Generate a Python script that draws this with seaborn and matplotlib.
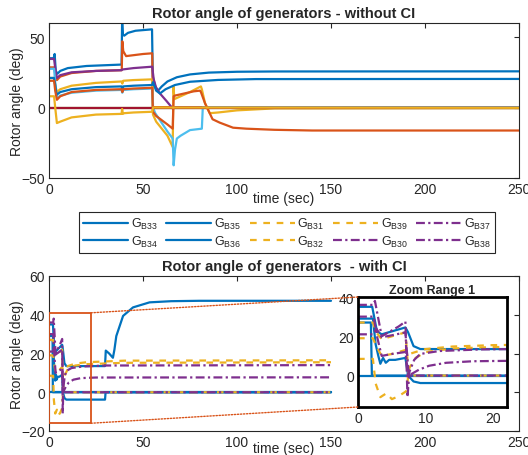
import matplotlib
matplotlib.use("Agg")
import matplotlib.pyplot as plt
import seaborn as sns
from matplotlib.patches import Rectangle, ConnectionPatch

# MATLAB default colour order
BLUE = "#0072BD"
ORANGE = "#D95319"
YELLOW = "#EDB120"
PURPLE = "#7E2F8E"
GREEN = "#77AC30"
LBLUE = "#4DBEEE"
DRED = "#A2142F"

# ---- top panel: without CI (time in s, angle in deg) ----
top_t1 = [0, 2.5, 3.0, 3.6, 4.5, 6, 10, 20, 38.6, 38.9, 39.3, 40, 42, 46, 54.8, 55.2, 56.5, 58, 60, 63, 68, 75, 85, 100, 120, 250]
top_v1 = [35, 35, 38, 26, 24, 26, 28, 29.5, 30.5, 62, 52, 51, 53, 54.5, 55.5, 22, 15, 12, 15, 18.5, 21.5, 23.5, 24.8, 25.4, 25.6, 25.7]

top_t2 = [0, 2.7, 3.3, 4.2, 6, 12, 25, 38.7, 39, 39.5, 41, 44, 50, 54.9, 55.3, 250]
top_v2 = [28.5, 28.5, 24, 19.5, 22, 24.5, 26, 26.5, 47, 40, 36.5, 37, 38, 38.5, 0.3, 0.3]

top_t3 = [0, 2.7, 3.3, 4.2, 6, 12, 25, 38.6, 39, 39.5, 45, 54.9, 55.3, 57, 60, 63, 65.8, 66.2, 66.7, 70, 75, 80.8, 81.3, 83, 85.5, 90, 100, 120, 250]
top_v3 = [21, 21, 16, 11, 13, 15.5, 17.5, 18.5, 17, 19, 19.5, 20, -5, -10, -15, -20, -28, 15, 6, 8, 11, 15, 13, 3, -4, -3.5, -2, -0.6, -0.4]

top_t4 = [0, 2.7, 3.3, 4.2, 6, 12, 25, 38.6, 39, 45, 54.9, 55.7, 57, 59, 62.4, 66, 66.5, 250]
top_v4 = [34.5, 34.5, 28, 21, 23, 25, 26, 26.5, 27, 28, 29, 20, 14, 10, 4.8, -1, 0, 0]

top_t5 = [0, 250]
top_v5 = [0, 0]

top_t6 = [0, 2.7, 3.3, 4.2, 6, 12, 25, 38.6, 39, 39.5, 45, 54.9, 55.3, 56.5, 60, 63, 65.8, 66.3, 67, 68, 70, 75, 81.3, 81.8, 250]
top_v6 = [27.5, 27.5, 18, 6.5, 8.5, 10.5, 12, 12.5, 10.5, 12.5, 13, 13.5, 0, -4, -11, -17, -22, -41, -30, -22, -20, -16, -15, 0, 0]

top_t7 = [0, 250]
top_v7 = [0, 0]

top_t8 = [0, 2.6, 3.2, 4, 6, 12, 25, 38.6, 39, 39.5, 45, 54.8, 55.3, 57, 59, 62, 67, 75, 90, 110, 250]
top_v8 = [21, 21, 17, 9, 11, 13, 14.5, 15, 12, 15, 15.5, 16, 18, 12, 10, 13, 16, 18.3, 19.6, 20.2, 20.3]

top_t9 = [0, 2.7, 3.3, 4.2, 6, 12, 25, 38.6, 39, 39.5, 45, 54.9, 55.3, 57, 60, 63, 65.8, 66.3, 67, 72, 77, 80.3, 80.8, 83, 87, 90.8, 97.9, 105, 120, 140, 250]
top_v9 = [19, 19, 12, 5.5, 8, 11, 12.5, 13, 11, 13, 13.5, 14, -3, -6, -9, -12, -15, 8, 8.5, 10, 11.5, 12, 11, 3, -8.3, -10.7, -14.3, -15, -15.8, -16.3, -16.3]

top_t10 = [0, 2.7, 3.3, 4.2, 6, 12, 25, 38.6, 38.9, 39.3, 40, 45, 54.9, 55.3, 250]
top_v10 = [8, 8, 0, -11, -10, -7, -5, -4.5, -1, -4.5, -4, -3.5, -3, 0, -0.2]

# ---- bottom panel: with CI ----
t_b33 = [0, 2.1, 2.8, 3.5, 5, 7, 7.4, 8.2, 9.2, 29.8, 30.2, 32, 34, 34.8, 35.8, 39.4, 44.7, 53.5, 65, 80, 150]
a_b33 = [35, 35, 22.5, 21, 22.5, 24.5, 22, 15, 13.5, 13.5, 21.5, 20, 17.8, 22, 29, 39.4, 43.8, 46.4, 47, 47.2, 47.2]

t_b34 = [0, 2.2, 2.6, 3.0, 3.3, 3.7, 4.1, 4.6, 5.5, 7.0, 7.4, 8.2, 9.2, 29.8, 30.1, 150]
a_b34 = [29, 29, 16, 10, 6, 9, 6.5, 8, 8, 9, 0, -3, -3.8, -3.8, 0, 0]

t_b35 = [0, 1.9, 2.05, 150]
a_b35 = [27, 27, 0, 0]

t_b36 = [0, 150]
a_b36 = [0, 0]

t_b31 = [0, 2.2, 2.7, 3.5, 5, 7, 7.6, 8.5, 10, 14, 20, 40, 150]
a_b31 = [19, 19, 15, 10, 11, 13, 11, 12, 13.5, 14.8, 15.5, 16.3, 16.5]

t_b32 = [0, 2.2, 2.6, 3.3, 4.2, 5, 6, 7.1, 7.6, 8.5, 10, 14, 20, 40, 150]
a_b32 = [8.5, 8.5, -4, -11, -9, -12, -10.5, -8, 4, 9, 12, 13.8, 14.5, 15.2, 15.5]

t_b39 = [0, 2.2, 2.7, 3.5, 5, 7, 7.5, 150]
a_b39 = [27, 27, 22, 18.5, 20, 22, 0, 0]

t_b37 = [0, 2.2, 2.5, 3.5, 4.5, 6, 7.0, 7.3, 7.6, 8.3, 9.2, 12, 18, 30, 150]
a_b37 = [36, 36, 38, 20, 22, 25, 27.5, -11, 2, 8, 11, 12.5, 13.3, 13.8, 14]

t_b30 = [0, 2.3, 2.8, 3.5, 5, 7, 7.4, 8, 9, 10.5, 13, 17, 25, 150]
a_b30 = [30, 30, 20, 10, 11, 12, 0, 1, 3, 5, 6.5, 7.3, 7.6, 7.7]

t_b38 = [0, 2.2, 2.7, 3.5, 5, 7, 7.5, 150]
a_b38 = [21, 21, 24, 19.5, 20.5, 22, 0, 0]

DASH = (0, (3, 3))
DASHDOT = (0, (4, 1.5, 1, 1.5))

sns.set_theme(style="white")
plt.rcParams['font.family'] = ['Liberation Sans', 'DejaVu Sans']
plt.rcParams['mathtext.default'] = 'regular'

fig = plt.figure(figsize=(5.28, 4.56), dpi=100)
ax1 = fig.add_axes([49 / 528, 1 - 179 / 456, 470 / 528, 155 / 456])
ax2 = fig.add_axes([49 / 528, 1 - 432 / 456, 470 / 528, 155 / 456])
ax3 = fig.add_axes([358 / 528, 1 - 408 / 456, 149 / 528, 110 / 456])


def style_axes(ax, xt, yt, lw=0.8):
    ax.set_xticks(xt)
    ax.set_yticks(yt)
    ax.tick_params(direction='in', length=3.5, width=0.8, top=True, right=True,
                   labelsize=10, colors='#262626', pad=3)
    for s in ax.spines.values():
        s.set_color('#262626' if lw < 1.5 else 'black')
        s.set_linewidth(lw)


# top panel
top = [(top_t1, top_v1, BLUE), (top_t2, top_v2, ORANGE), (top_t3, top_v3, YELLOW),
       (top_t4, top_v4, PURPLE), (top_t5, top_v5, GREEN), (top_t6, top_v6, LBLUE),
       (top_t7, top_v7, DRED), (top_t8, top_v8, BLUE), (top_t9, top_v9, ORANGE),
       (top_t10, top_v10, YELLOW)]
for t, v, c in top:
    sns.lineplot(x=t, y=v, ax=ax1, color=c, lw=1.6, estimator=None, sort=False, legend=False)
ax1.set_xlim(0, 250)
ax1.set_ylim(-50, 60)
style_axes(ax1, range(0, 251, 50), [-50, 0, 50])
ax1.set_title("Rotor angle of generators - without CI", fontsize=10.5, fontweight='bold', pad=4)
ax1.set_ylabel("Rotor angle (deg)", fontsize=10, color='#262626')
ax1.yaxis.set_label_coords(-0.053, 0.5)
ax1.set_xlabel("time (sec)", fontsize=10, color='#262626', va='center')
ax1.xaxis.set_label_coords(0.5, -0.13)

# bottom panel + inset
bottom = [("B33", t_b33, a_b33, BLUE, '-'), ("B34", t_b34, a_b34, BLUE, '-'),
          ("B35", t_b35, a_b35, BLUE, '-'), ("B36", t_b36, a_b36, BLUE, '-'),
          ("B31", t_b31, a_b31, YELLOW, DASH), ("B32", t_b32, a_b32, YELLOW, DASH),
          ("B39", t_b39, a_b39, YELLOW, DASH), ("B30", t_b30, a_b30, PURPLE, DASHDOT),
          ("B37", t_b37, a_b37, PURPLE, DASHDOT), ("B38", t_b38, a_b38, PURPLE, DASHDOT)]
for name, t, v, c, ls in bottom:
    for ax in (ax2, ax3):
        sns.lineplot(x=t, y=v, ax=ax, color=c, lw=1.6, linestyle=ls, estimator=None,
                     sort=False, legend=False, label="G$_{%s}$" % name)

ax2.set_xlim(0, 250)
ax2.set_ylim(-20, 60)
style_axes(ax2, range(0, 251, 50), range(-20, 61, 20))
ax2.set_title("Rotor angle of generators  - with CI", fontsize=10.5, fontweight='bold', pad=4)
ax2.set_ylabel("Rotor angle (deg)", fontsize=10, color='#262626')
ax2.yaxis.set_label_coords(-0.053, 0.5)
ax2.set_xlabel("time (sec)", fontsize=10, color='#262626', va='center')
ax2.xaxis.set_label_coords(0.5, -0.11)

ax3.set_xlim(0, 22)
ax3.set_ylim(-16, 40)
style_axes(ax3, [0, 10, 20], [0, 20, 40], lw=2)
ax3.tick_params(top=False, right=False)
ax3.set_title("Zoom Range 1", fontsize=9, fontweight='bold', pad=3)

ax2.add_patch(Rectangle((0, -16), 22.3, 57, fill=False, edgecolor=ORANGE, lw=1.3, zorder=5))
for ya, yb in [(41, 40), (-16, -16)]:
    con = ConnectionPatch(xyA=(22.3, ya), coordsA=ax2.transData, xyB=(0, yb), coordsB=ax3.transData,
                          color=ORANGE, lw=1, linestyle=(0, (1, 1.2)))
    fig.add_artist(con)

# legend (column-major as in reference)
handles = {l.get_label(): l for l in ax2.get_lines()}
order = ["B33", "B34", "B35", "B36", "B31", "B32", "B39", "B30", "B37", "B38"]
hs = [handles["G$_{%s}$" % n] for n in order]
leg = fig.legend(hs, [h.get_label() for h in hs], ncol=5, loc='center',
                 bbox_to_anchor=(287 / 528, 1 - 233.5 / 456), fontsize=9,
                 handlelength=3.6, handletextpad=0.2, columnspacing=0.7,
                 labelspacing=0.2, borderpad=0.3, fancybox=False, framealpha=1)
leg.get_frame().set_edgecolor('#262626')
leg.get_frame().set_linewidth(0.8)

fig.savefig("out.png", dpi=100)
